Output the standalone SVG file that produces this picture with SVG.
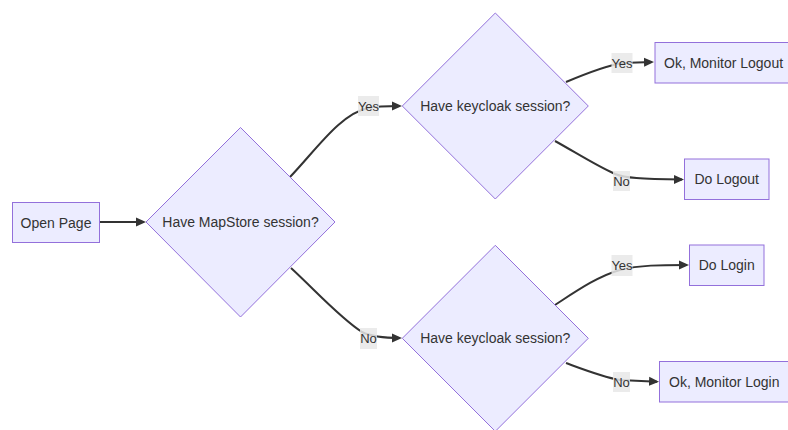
<svg xmlns="http://www.w3.org/2000/svg" width="788" height="430" viewBox="0 0 788 430">
<style>
.node{fill:#ECECFF;stroke:#9370DB;stroke-width:1}
.edge{fill:none;stroke:#333333;stroke-width:2}
.t{font-family:"Liberation Sans",Arial,sans-serif;font-size:14px;fill:#333333;dominant-baseline:central}
.lbl{fill:#e8e8e8;fill-opacity:0.85}
.lt{font-family:"Liberation Sans",Arial,sans-serif;font-size:13px;fill:#333333;dominant-baseline:central;text-anchor:middle}
</style>
<defs>
<marker id="arrow" viewBox="0 0 10 10" refX="8" refY="5" markerWidth="10" markerHeight="10" markerUnits="userSpaceOnUse" orient="auto">
<path d="M0,0.5 L10,5 L0,9.5 z" fill="#333333"/>
</marker>
</defs>
<rect width="788" height="430" fill="#ffffff"/>
<g id="connectors">
<path class="edge" d="M100,222 L144,222" marker-end="url(#arrow)"/>
<path class="edge" d="M290,177 C316,150 340,114 368,108 C378,106 388,106 400,106" marker-end="url(#arrow)"/>
<path class="edge" d="M291,268 C315,290 340,318 362,332 C372,337 385,338 400,338" marker-end="url(#arrow)"/>
<path class="edge" d="M566,82 C585,74 605,66 622,63 L652,62" marker-end="url(#arrow)"/>
<path class="edge" d="M555,141 C575,152 595,165 615,174 C625,178 640,179 682,179.5" marker-end="url(#arrow)"/>
<path class="edge" d="M555,305 C575,292 598,276 620,270 C640,265 660,265 687,265" marker-end="url(#arrow)"/>
<path class="edge" d="M566,363 C585,370 603,377 620,380 L657,381.7" marker-end="url(#arrow)"/>
</g>
<g id="edge-labels">
<rect class="lbl" x="358" y="96" width="21" height="20"/><text class="lt" x="368.5" y="106">Yes</text>
<rect class="lbl" x="360" y="328" width="17" height="21"/><text class="lt" x="368.5" y="338.5">No</text>
<rect class="lbl" x="611.5" y="53" width="21" height="20"/><text class="lt" x="622" y="63">Yes</text>
<rect class="lbl" x="613" y="171" width="17" height="20"/><text class="lt" x="621.5" y="181">No</text>
<rect class="lbl" x="611.5" y="255" width="21" height="21"/><text class="lt" x="622" y="265.5">Yes</text>
<rect class="lbl" x="613" y="372" width="17" height="20"/><text class="lt" x="621.5" y="382">No</text>
</g>
<g id="open-page">
<rect class="node" x="12.5" y="202.5" width="87" height="40"/>
<text class="t" x="56" y="222.5" text-anchor="middle">Open Page</text>
</g>
<g id="have-mapstore">
<polygon class="node" points="240.5,127.5 335,222 240.5,317 146,222"/>
<text class="t" x="240.5" y="222" text-anchor="middle">Have MapStore session?</text>
</g>
<g id="keycloak-1">
<polygon class="node" points="495.3,13 588.3,106 495.3,199 402.3,106"/>
<text class="t" x="495.3" y="106" text-anchor="middle">Have keycloak session?</text>
</g>
<g id="keycloak-2">
<polygon class="node" points="495.3,245.3 588.3,338.3 495.3,431.3 402.3,338.3"/>
<text class="t" x="495.3" y="338.3" text-anchor="middle">Have keycloak session?</text>
</g>
<g id="ok-monitor-logout">
<rect class="node" x="655" y="42.5" width="142" height="40.5"/>
<text class="t" x="664" y="62.5">Ok, Monitor Logout</text>
</g>
<g id="do-logout">
<rect class="node" x="684.5" y="159" width="84.5" height="40.5"/>
<text class="t" x="726.7" y="179.2" text-anchor="middle">Do Logout</text>
</g>
<g id="do-login">
<rect class="node" x="689.5" y="245" width="74.5" height="40.5"/>
<text class="t" x="726.7" y="265.2" text-anchor="middle">Do Login</text>
</g>
<g id="ok-monitor-login">
<rect class="node" x="659.5" y="361.5" width="140" height="40.5"/>
<text class="t" x="669" y="381.7">Ok, Monitor Login</text>
</g>
</svg>
